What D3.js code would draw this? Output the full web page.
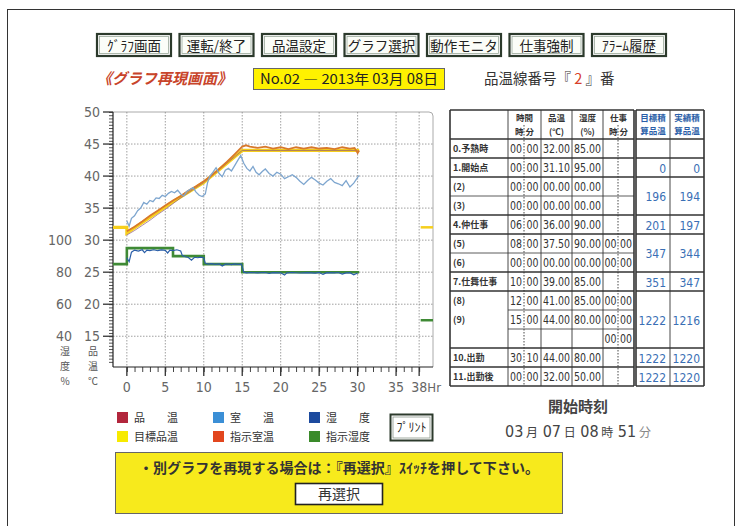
<!DOCTYPE html>
<html>
<head>
<meta charset="utf-8">
<script src="https://cdn.jsdelivr.net/npm/d3@7"></script>
<style>
  body { margin: 0; background: #fff; }
  text { font-family: "Noto Sans CJK JP", sans-serif; }
  .num { font-family: "DejaVu Sans Condensed", "Liberation Sans Narrow", "Liberation Sans", sans-serif; font-stretch: condensed; }
</style>
</head>
<body>
<svg id="screen" width="742" height="526"></svg>
<script>
// ---- data ----
const buttons = ["ｸﾞﾗﾌ画面", "運転/終了", "品温設定", "グラフ選択", "動作モニタ", "仕事強制", "ｱﾗｰﾑ履歴"];

const tempTicks = [50, 45, 40, 35, 30, 25, 20, 15];
const humTicks = [100, 80, 60, 40];
const hrTicks = [0, 5, 10, 15, 20, 25, 30, 35, 38];

// 目標品温 (target product temp)
const targetHrs = [-1.8, 0, 0, 6, 8, 10, 12, 15, 30.2];
const targetVals = [32, 32, 31.1, 36, 37.5, 39, 41, 44, 44];

// 指示湿度 (set humidity, %)
const setHumHrs = [-1.8, 0, 6, 10, 15, 30.2];
const setHumVals = [85, 95, 90, 85, 80, 80];

// 指示室温 (set room temp)
const setRoomHrs = [0, 1, 2, 3, 4, 5, 6, 7, 8, 9, 10, 11, 12, 13, 14, 15, 15.5, 16, 17, 18, 19, 20, 21, 22, 23, 24, 25, 26, 27, 28, 29, 29.6, 30, 30.2];
const setRoomVals = [31.4, 32.1, 32.9, 33.8, 34.6, 35.4, 36.2, 36.9, 37.7, 38.4, 39.2, 40.1, 41.1, 42.2, 43.4, 44.6, 44.8, 44.6, 44.4, 44.6, 44.3, 44.5, 44.2, 44.5, 44.3, 44.5, 44.3, 44.4, 44.2, 44.5, 44.3, 44.4, 43.6, 44.0];

// 品温 (product temp)
const prodHrs = [0, 1, 2, 3, 4, 5, 6, 7, 8, 9, 10, 11, 12, 13, 14, 15, 20, 25, 30];
const prodVals = [30.8, 31.5, 32.3, 33.1, 34.0, 34.8, 35.7, 36.6, 37.4, 38.2, 39.0, 40.0, 41.0, 42.0, 43.0, 44.0, 44.0, 44.0, 44.0];

// 室温 (room temp)
const roomHrs = [0, 0.3, 0.6, 1.0, 1.4, 1.8, 2.2, 2.6, 3.0, 3.4, 3.8, 4.2, 4.6, 5.0, 5.4, 5.8, 6.2, 6.6, 7.0, 7.4, 7.8, 8.2, 8.6, 9.0, 9.4, 9.8, 10.2, 10.5, 10.8, 11.2, 11.6, 12.0, 12.4, 12.8, 13.2, 13.6, 14.0, 14.4, 14.8, 15.2, 15.6, 16.0, 16.4, 16.8, 17.2, 17.6, 18.0, 18.5, 19.0, 19.5, 20.0, 20.5, 21.0, 21.5, 22.0, 22.5, 23.0, 23.5, 24.0, 24.5, 25.0, 25.5, 26.0, 26.5, 27.0, 27.5, 28.0, 28.5, 29.0, 29.5, 30.0, 30.2];
const roomVals = [33.0, 32.2, 33.4, 33.8, 34.6, 35.0, 35.9, 35.6, 36.2, 36.0, 36.6, 36.5, 37.0, 36.8, 37.3, 37.6, 37.4, 37.8, 37.2, 36.9, 37.6, 37.9, 38.2, 37.5, 37.0, 36.8, 37.2, 39.0, 40.0, 40.6, 41.3, 40.4, 39.9, 40.9, 41.2, 40.8, 41.6, 42.4, 43.2, 42.0, 41.2, 40.8, 41.5, 40.6, 40.2, 40.7, 41.1, 40.4, 40.0, 40.6, 40.3, 39.6, 39.9, 40.2, 39.8, 39.2, 38.7, 39.3, 39.8, 39.4, 38.9, 38.6, 39.2, 39.6, 39.0, 38.8, 38.5, 39.3, 38.3, 38.9, 39.8, 40.1];

// 湿度 (humidity, %)
const humHrs = [0, 0.3, 0.6, 1.0, 1.5, 2.0, 2.3, 2.6, 3.0, 3.5, 4.0, 4.5, 5.0, 5.3, 5.6, 6.0, 6.5, 7.0, 7.2, 7.6, 8.0, 8.4, 8.8, 9.2, 9.6, 10.0, 10.2, 10.6, 11.0, 11.5, 12.0, 12.4, 12.8, 13.2, 13.6, 14.0, 14.5, 14.9, 15.2, 15.6, 16.0, 17.0, 18.0, 18.5, 19.0, 20.0, 20.5, 20.8, 21.5, 22.5, 23.5, 24.5, 25.0, 25.5, 26.0, 27.0, 27.5, 28.0, 28.5, 29.0, 29.5, 30.0];
const humVals = [89, 86.5, 92.5, 93.8, 93.2, 94.0, 92.2, 93.8, 93.5, 94.0, 93.4, 93.9, 93.6, 92.0, 93.8, 93.5, 94.0, 93.2, 90.5, 89.6, 89.2, 87.5, 89.3, 89.0, 89.4, 89.0, 85.6, 85.0, 85.3, 84.9, 85.2, 83.8, 85.0, 85.1, 84.7, 85.2, 84.9, 85.0, 80.0, 79.6, 79.8, 79.6, 79.8, 79.2, 79.7, 79.6, 78.2, 79.6, 79.8, 79.5, 79.7, 79.4, 79.8, 78.6, 79.7, 79.6, 79.8, 78.8, 79.6, 79.7, 78.4, 79.5];

// after-shipment set values (marks at the right edge)
const afterTemp = 32;
const afterHum = 50;

// table
const rowLabels = ["0.予熱時", "1.開始点", "(2)", "(3)", "4.仲仕事", "(5)", "(6)", "7.仕舞仕事", "(8)", "(9)", "", "10.出勤", "11.出勤後"];
const rowHours = ["00", "00", "00", "00", "06", "08", "00", "10", "12", "15", "", "30", "00"];
const rowMins = ["00", "00", "00", "00", "00", "00", "00", "00", "00", "00", "", "10", "00"];
const rowTemps = ["32.00", "31.10", "00.00", "00.00", "36.00", "37.50", "00.00", "39.00", "41.00", "44.00", "", "44.00", "32.00"];
const rowHums = ["85.00", "95.00", "00.00", "00.00", "90.00", "90.00", "00.00", "85.00", "85.00", "80.00", "", "80.00", "50.00"];
const rowWork = ["", "", "", "", "", "00", "00", "", "00", "00", "00", "", ""];
const groups = [[0], [1], [2, 3], [4], [5, 6], [7], [8, 9, 10], [11], [12]];
const sumTarget = ["", "0", "196", "201", "347", "351", "1222", "1222", "1222"];
const sumActual = ["", "0", "194", "197", "344", "347", "1216", "1220", "1220"];

const legendItems = [
  { label: "品　温", color: "#b2263c" }, { label: "室　温", color: "#3b8fd6" }, { label: "湿　度", color: "#1c4a9e" },
  { label: "目標品温", color: "#f7ea00" }, { label: "指示室温", color: "#e2461e" }, { label: "指示湿度", color: "#3a8a2a" }
];

const svg = d3.select("#screen");

// outer frame
svg.append("rect").attr("x", 7.5).attr("y", 9.5).attr("width", 727).attr("height", 530)
  .attr("fill", "none").attr("stroke", "#333").attr("stroke-width", 1);

// ---- top buttons ----
const btnX = d3.scalePoint().domain(buttons).range([97, 592]);
const btn = svg.append("g").selectAll("g").data(buttons).enter().append("g")
  .attr("transform", d => `translate(${btnX(d)},34)`);
btn.append("rect").attr("width", 74).attr("height", 22).attr("fill", "#fff")
  .attr("stroke", "#2c3a2c").attr("stroke-width", 2.2);
btn.append("rect").attr("x", 2.5).attr("y", 2.5).attr("width", 69).attr("height", 17)
  .attr("fill", "#fbfdf8").attr("stroke", "#9aa89a").attr("stroke-width", 0.8);
btn.append("text").attr("x", 37).attr("y", 16.5).attr("text-anchor", "middle")
  .attr("font-size", 13.5).attr("fill", "#222").text(d => d);

// ---- title row ----
svg.append("text").attr("x", 97).attr("y", 84).attr("font-size", 15).attr("fill", "#c8442a")
  .attr("font-style", "italic").attr("font-weight", "bold").text("《グラフ再現画面》");
svg.append("rect").attr("x", 253.5).attr("y", 68.5).attr("width", 191).attr("height", 21)
  .attr("fill", "#fff200").attr("stroke", "#666");
svg.append("text").attr("x", 349).attr("y", 84).attr("text-anchor", "middle").attr("font-size", 14)
  .attr("fill", "#222").attr("textLength", 178).attr("lengthAdjust", "spacingAndGlyphs")
  .text("No.02 ― 2013年 03月 08日");
const ttl = svg.append("text").attr("x", 484).attr("y", 84).attr("font-size", 14.5).attr("fill", "#333");
ttl.append("tspan").text("品温線番号『 ");
ttl.append("tspan").attr("fill", "#d8402a").text("2");
ttl.append("tspan").text(" 』番");

// ---- chart ----
const x = d3.scaleLinear().domain([-1.8, 39.8]).range([113, 433]);
const y = d3.scaleLinear().domain([10.2, 50]).range([367, 112]);
const yHum = d3.scaleLinear().domain([40, 100]).range([y(15), y(30)]);

const chart = svg.append("g");

// frame (top/right light)
chart.append("path")
  .attr("d", `M${x(-1.8)},${y(50)} H${x(39.8) - 4} Q${x(39.8)},${y(50)} ${x(39.8)},${y(50) + 4} V${y(10.2)}`)
  .attr("fill", "none").attr("stroke", "#aaa").attr("stroke-width", 1);

// grid
chart.append("g").selectAll("line").data(hrTicks).enter().append("line")
  .attr("x1", d => x(d)).attr("x2", d => x(d)).attr("y1", y(50)).attr("y2", y(10.2))
  .attr("stroke", "#888").attr("stroke-width", 0.8).attr("stroke-dasharray", "1.5,1.5");
chart.append("g").selectAll("line").data(tempTicks.filter(d => d < 50)).enter().append("line")
  .attr("x1", x(-1.8)).attr("x2", x(39.8)).attr("y1", d => y(d)).attr("y2", d => y(d))
  .attr("stroke", "#888").attr("stroke-width", 0.8).attr("stroke-dasharray", "1.5,1.5");

// y axis
const yAxis = chart.append("g").attr("transform", `translate(${x(-1.8)},0)`);
yAxis.call(d3.axisLeft(y).tickValues(d3.range(11, 50.01, 0.5)).tickSize(4).tickFormat(""));
yAxis.call(g => g.select(".domain").remove());
yAxis.append("line").attr("y1", y(50)).attr("y2", y(10.2)).attr("stroke", "#222").attr("stroke-width", 1.2);
yAxis.selectAll(".tick line").attr("stroke", "#555");
yAxis.append("g").selectAll("line").data(tempTicks).enter().append("line")
  .attr("x1", -10).attr("x2", 0).attr("y1", d => y(d)).attr("y2", d => y(d)).attr("stroke", "#333").attr("stroke-width", 1.3);

chart.append("g").selectAll("text").data(tempTicks).enter().append("text")
  .attr("class", "num").attr("x", 100).attr("y", d => y(d) + 5).attr("text-anchor", "end")
  .attr("font-size", 14).attr("fill", "#666").text(d => d);
chart.append("g").selectAll("text").data(humTicks).enter().append("text")
  .attr("class", "num").attr("x", 72).attr("y", d => yHum(d) + 5).attr("text-anchor", "end")
  .attr("font-size", 14).attr("fill", "#666").text(d => d);

// vertical unit labels
[["湿", "度", "%", 65], ["品", "温", "℃", 93]].forEach(col => {
  col.slice(0, 3).forEach((ch, i) => {
    chart.append("text").attr("x", col[3]).attr("y", 355 + i * 15).attr("text-anchor", "middle")
      .attr("font-size", 10).attr("fill", "#555").text(ch);
  });
});

// x axis
const xAxis = chart.append("g").attr("transform", `translate(0,${y(10.2)})`);
xAxis.call(d3.axisBottom(x).tickValues(d3.range(0, 38.5, 1)).tickSize(5).tickFormat(""));
xAxis.select(".domain").remove();
xAxis.selectAll(".tick line").attr("stroke", "#444");
xAxis.append("line").attr("x1", x(-1.8)).attr("x2", x(39.8)).attr("stroke", "#222").attr("stroke-width", 1.2);
xAxis.append("g").selectAll("line").data(hrTicks).enter().append("line")
  .attr("x1", d => x(d)).attr("x2", d => x(d)).attr("y1", 0).attr("y2", 9).attr("stroke", "#333").attr("stroke-width", 1.3);
xAxis.append("g").selectAll("text").data(hrTicks).enter().append("text")
  .attr("class", "num").attr("x", d => x(d)).attr("y", 25).attr("text-anchor", "middle")
  .attr("font-size", 14).attr("fill", "#666").text(d => d);
xAxis.append("text").attr("class", "num").attr("x", x(38) + 15).attr("y", 25)
  .attr("font-size", 13).attr("fill", "#666").text("Hr");

// series
const zip = (a, b) => a.map((d, i) => [d, b[i]]);
const tLine = d3.line().x(d => x(d[0])).y(d => y(d[1]));
const hLine = d3.line().x(d => x(d[0])).y(d => yHum(d[1]));
const hStep = d3.line().x(d => x(d[0])).y(d => yHum(d[1])).curve(d3.curveStepAfter);

chart.append("path").attr("d", tLine(zip(targetHrs, targetVals)))
  .attr("fill", "none").attr("stroke", "#f6cf1c").attr("stroke-width", 3.2);
chart.append("path").attr("d", tLine(zip(prodHrs, prodVals)))
  .attr("fill", "none").attr("stroke", "#8e5a7a").attr("stroke-width", 1).attr("opacity", 0.7);
chart.append("path").attr("d", tLine(zip(setRoomHrs, setRoomVals)))
  .attr("fill", "none").attr("stroke", "#d8792c").attr("stroke-width", 1.8);
chart.append("path").attr("d", tLine(zip(roomHrs, roomVals)))
  .attr("fill", "none").attr("stroke", "#7ea6cf").attr("stroke-width", 1.3);

chart.append("path").attr("d", hStep(zip(setHumHrs, setHumVals)))
  .attr("fill", "none").attr("stroke", "#3f8a35").attr("stroke-width", 2.6);
chart.append("path").attr("d", hLine(zip(humHrs, humVals)))
  .attr("fill", "none").attr("stroke", "#2a5ea8").attr("stroke-width", 1.2);

// after-shipment marks
chart.append("line").attr("x1", x(38.2)).attr("x2", x(39.8)).attr("y1", y(afterTemp)).attr("y2", y(afterTemp))
  .attr("stroke", "#f6cf1c").attr("stroke-width", 2.5);
chart.append("line").attr("x1", x(38.2)).attr("x2", x(39.8)).attr("y1", yHum(afterHum)).attr("y2", yHum(afterHum))
  .attr("stroke", "#3f8a35").attr("stroke-width", 2.5);

// ---- legend ----
const leg = svg.append("g").selectAll("g").data(legendItems).enter().append("g")
  .attr("transform", (d, i) => `translate(${[117, 213, 309][i % 3]},${i < 3 ? 412 : 431})`);
leg.append("rect").attr("width", 11).attr("height", 11).attr("fill", d => d.color);
leg.append("text").attr("x", 17).attr("y", 10).attr("font-size", 11).attr("fill", "#333")
  .attr("textLength", 44).attr("lengthAdjust", "spacing").text(d => d.label);

// print button
svg.append("rect").attr("x", 390.5).attr("y", 414.5).attr("width", 42).attr("height", 26)
  .attr("fill", "#fff").attr("stroke", "#2c3a2c").attr("stroke-width", 2);
svg.append("rect").attr("x", 393).attr("y", 417).attr("width", 37).attr("height", 21)
  .attr("fill", "none").attr("stroke", "#8a968a").attr("stroke-width", 0.8);
svg.append("text").attr("x", 411.5).attr("y", 432).attr("text-anchor", "middle").attr("font-size", 12)
  .attr("fill", "#222").text("ﾌﾟﾘﾝﾄ");

// ---- table ----
const colX = [450, 508, 524, 541, 572, 603, 618, 634];
const rX = [636, 670, 704];
const tblTop = 110, headH = 29, rowH = 19;
const rowY = i => tblTop + headH + i * rowH;
const tbl = svg.append("g");

// header
const hdr = [
  [(colX[1] + colX[3]) / 2, "時間", "時 分"], [(colX[3] + colX[4]) / 2, "品温", "(℃)"],
  [(colX[4] + colX[5]) / 2, "湿度", "(%)"], [(colX[5] + colX[7]) / 2, "仕事", "時 分"]
];
hdr.forEach(h => {
  tbl.append("text").attr("x", h[0]).attr("y", tblTop + 11).attr("text-anchor", "middle").attr("font-size", 8.5).attr("font-weight", "bold").attr("fill", "#333").text(h[1]);
  tbl.append("text").attr("x", h[0]).attr("y", tblTop + 24.5).attr("text-anchor", "middle").attr("font-size", 8.5).attr("font-weight", "bold").attr("fill", "#333").text(h[2]);
});
[["目標積", "算品温"], ["実績積", "算品温"]].forEach((h, i) => {
  const cx = (rX[i] + rX[i + 1]) / 2;
  tbl.append("text").attr("x", cx).attr("y", tblTop + 11).attr("text-anchor", "middle").attr("font-size", 8.5).attr("font-weight", "bold").attr("fill", "#2a5ea8").text(h[0]);
  tbl.append("text").attr("x", cx).attr("y", tblTop + 24).attr("text-anchor", "middle").attr("font-size", 8.5).attr("font-weight", "bold").attr("fill", "#2a5ea8").text(h[1]);
});

// rows
const cellText = (arr, cx) => tbl.append("g").selectAll("text").data(arr.map((d, i) => [d, i]).filter(d => d[0] !== ""))
  .enter().append("text")
  .attr("class", "num").attr("x", cx).attr("y", d => rowY(d[1]) + 14).attr("text-anchor", "middle")
  .attr("font-size", 12).attr("fill", "#333")
  .attr("textLength", d => d[0].length > 2 ? 27 : 12).attr("lengthAdjust", "spacingAndGlyphs")
  .text(d => d[0]);
tbl.append("g").selectAll("text").data(rowLabels).enter().append("text")
  .attr("x", 453).attr("y", (d, i) => rowY(i) + 13).attr("font-size", 9).attr("font-weight", "bold")
  .attr("fill", "#333").text(d => d);
cellText(rowHours, (colX[1] + colX[2]) / 2);
cellText(rowMins, (colX[2] + colX[3]) / 2);
cellText(rowTemps, (colX[3] + colX[4]) / 2);
cellText(rowHums, (colX[4] + colX[5]) / 2);
cellText(rowWork, (colX[5] + colX[6]) / 2);
cellText(rowWork, (colX[6] + colX[7]) / 2);

groups.forEach((g, gi) => {
  const cy = (rowY(g[0]) + rowY(g[g.length - 1] + 1)) / 2 + 5;
  tbl.append("text").attr("class", "num").attr("x", rX[1] - 4).attr("y", cy).attr("text-anchor", "end")
    .attr("font-size", 12).attr("fill", "#3a6fb5").text(sumTarget[gi]);
  tbl.append("text").attr("class", "num").attr("x", rX[2] - 4).attr("y", cy).attr("text-anchor", "end")
    .attr("font-size", 12).attr("fill", "#3a6fb5").text(sumActual[gi]);
});

// lines
const bottom = rowY(rowLabels.length);
const ln = (x1, y1, x2, y2, w, dash) => tbl.append("line").attr("x1", x1).attr("y1", y1).attr("x2", x2).attr("y2", y2)
  .attr("stroke", "#333").attr("stroke-width", w).attr("stroke-dasharray", dash || null);
groups.forEach(g => {
  const yy = rowY(g[0]);
  ln(colX[0], yy, colX[7], yy, 1.4);
  ln(rX[0], yy, rX[2], yy, 1.4);
  g.slice(1).forEach(r => {
    ln(g.length === 3 ? colX[1] : colX[0], rowY(r), colX[7], rowY(r), 0.8);
  });
});
colX.forEach((cx, i) => {
  const dotted = cx === colX[2] || cx === colX[6];
  ln(cx, dotted ? tblTop + 15 : tblTop, cx, bottom, (i === 0 || i === 7) ? 1.6 : 0.9, dotted ? "1.5,1.5" : null);
});
rX.forEach((cx, i) => ln(cx, tblTop, cx, bottom, i === 1 ? 0.9 : 1.6));
ln(colX[0], tblTop, colX[7], tblTop, 1.6);
ln(rX[0], tblTop, rX[2], tblTop, 1.6);
ln(colX[0], bottom, colX[7], bottom, 1.6);
ln(rX[0], bottom, rX[2], bottom, 1.6);

// start time
svg.append("text").attr("x", 578).attr("y", 412).attr("text-anchor", "middle").attr("font-size", 15)
  .attr("font-weight", "bold").attr("fill", "#444").text("開始時刻");
const st = svg.append("text").attr("x", 578).attr("y", 437).attr("text-anchor", "middle").attr("fill", "#444");
[["03", "月"], ["07", "日"], ["08", "時"], ["51", "分"]].forEach((p, i) => {
  st.append("tspan").attr("class", "num").attr("font-size", 16).text((i ? " " : "") + p[0]);
  st.append("tspan").attr("font-size", 12).attr("fill", i === 3 ? "#888" : "#444").text(" " + p[1]);
});

// ---- bottom notice ----
svg.append("rect").attr("x", 115.5).attr("y", 452.5).attr("width", 447).attr("height", 61)
  .attr("fill", "#f7ea1c").attr("stroke", "#666");
svg.append("text").attr("x", 339).attr("y", 473).attr("text-anchor", "middle").attr("font-size", 14)
  .attr("font-weight", "bold").attr("fill", "#333").attr("textLength", 400).attr("lengthAdjust", "spacing")
  .text("・別グラフを再現する場合は：『再選択』ｽｲｯﾁを押して下さい。");
svg.append("rect").attr("x", 295.5).attr("y", 483.5).attr("width", 87).attr("height", 21)
  .attr("fill", "#fff").attr("stroke", "#222").attr("stroke-width", 1.6);
svg.append("text").attr("x", 339).attr("y", 499).attr("text-anchor", "middle").attr("font-size", 14)
  .attr("fill", "#333").text("再選択");
</script>
</body>
</html>
